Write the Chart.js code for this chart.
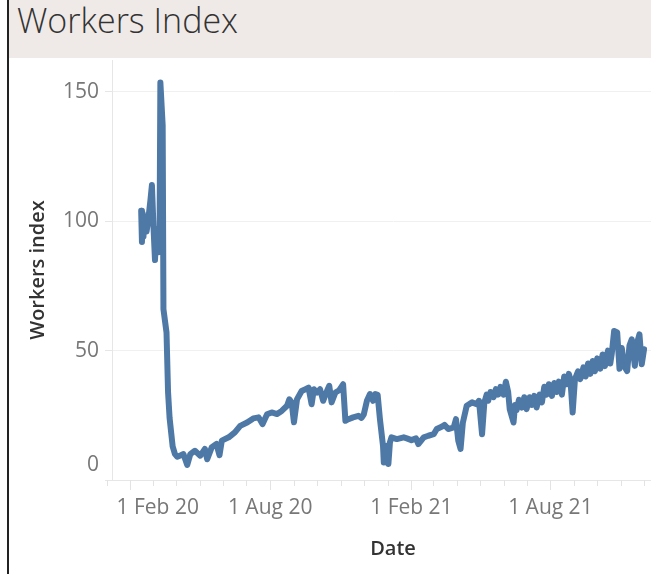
<!DOCTYPE html>
<html>
<head>
<meta charset="utf-8">
<title>Workers Index</title>
<script src="https://cdn.jsdelivr.net/npm/chart.js@4.4.1/dist/chart.umd.min.js"></script>
<style>
  html, body { margin: 0; padding: 0; background: #fff; overflow: hidden; width: 651px; height: 574px; }
  #frame { position: absolute; left: 7px; top: 0; width: 2px; height: 574px; background: #222; }
  #header { position: absolute; left: 9px; top: 0; width: 642px; height: 58px; background: #efeae7; }
  #header h1 { margin: 0; padding: 0 0 0 8px; font: 300 34px 'Open Sans', sans-serif; color: #333; line-height: 40px; }
  #wrap { position: absolute; left: 10px; top: 58px; width: 664px; height: 516px; }
</style>
</head>
<body>
<div id="frame"></div>
<div id="header"><h1>Workers Index</h1></div>
<div id="wrap"><canvas id="chart"></canvas></div>
<script>
const dates = [
  '2020-02-15','2020-02-16','2020-02-17','2020-02-18','2020-02-19','2020-02-22','2020-02-24','2020-02-27','2020-02-29',
  '2020-03-02','2020-03-04','2020-03-06','2020-03-08','2020-03-10','2020-03-11','2020-03-14','2020-03-15','2020-03-19',
  '2020-03-21','2020-03-23','2020-03-27','2020-03-30','2020-04-02','2020-04-06','2020-04-10','2020-04-15','2020-04-19',
  '2020-04-25','2020-05-02','2020-05-08','2020-05-11','2020-05-17','2020-05-23','2020-05-27','2020-05-30','2020-06-08',
  '2020-06-16','2020-06-23','2020-07-02','2020-07-10','2020-07-17','2020-07-22','2020-07-28','2020-08-03','2020-08-10',
  '2020-08-16','2020-08-23','2020-08-26','2020-08-29','2020-09-01','2020-09-05','2020-09-11','2020-09-16','2020-09-20',
  '2020-09-24','2020-09-27','2020-10-01','2020-10-05','2020-10-09','2020-10-14','2020-10-17','2020-10-20','2020-10-25',
  '2020-10-30','2020-11-04','2020-11-07','2020-11-11','2020-11-17','2020-11-24','2020-11-28','2020-12-01','2020-12-05',
  '2020-12-09','2020-12-13','2020-12-16','2020-12-19','2020-12-22','2020-12-26','2020-12-27','2020-12-31','2021-01-02',
  '2021-01-04','2021-01-06','2021-01-13','2021-01-22','2021-01-26','2021-02-01','2021-02-07','2021-02-10','2021-02-17',
  '2021-02-23','2021-03-02','2021-03-06','2021-03-13','2021-03-16','2021-03-21','2021-03-28','2021-03-31','2021-04-03',
  '2021-04-06','2021-04-09','2021-04-14','2021-04-21','2021-04-27','2021-04-30',
  '2021-05-04','2021-05-07','2021-05-10','2021-05-12','2021-05-15','2021-05-19','2021-05-22','2021-05-25','2021-05-28',
  '2021-06-01','2021-06-04','2021-06-07','2021-06-09','2021-06-14','2021-06-16','2021-06-18','2021-06-21','2021-06-25',
  '2021-06-28','2021-07-01','2021-07-05','2021-07-08','2021-07-11','2021-07-14','2021-07-18','2021-07-21','2021-07-24',
  '2021-07-27','2021-07-30','2021-08-03','2021-08-06','2021-08-09','2021-08-12','2021-08-16','2021-08-19','2021-08-22',
  '2021-08-25','2021-08-27','2021-08-30','2021-09-02','2021-09-06','2021-09-09','2021-09-13','2021-09-16','2021-09-19',
  '2021-09-22','2021-09-25','2021-09-28','2021-10-01','2021-10-05','2021-10-08','2021-10-11','2021-10-15','2021-10-18',
  '2021-10-20','2021-10-23','2021-10-27','2021-10-30','2021-11-02','2021-11-05','2021-11-09','2021-11-12','2021-11-15',
  '2021-11-19','2021-11-22','2021-11-25','2021-11-28','2021-12-01'
];
const workersIndex = [
  104, 92, 103, 94, 102, 96, 100, 108, 114,
  98, 85, 97, 88, 97, 153.6, 137, 66, 57,
  34, 24, 13, 10, 9, 9.5, 10, 5.8, 10,
  11.3, 9.4, 12, 8, 12.7, 13.9, 9.6, 15.2, 16.5,
  18.4, 20.9, 22.2, 23.8, 24.2, 21.6, 25.4, 26.1, 25.5,
  26.7, 28.7, 31.2, 30, 22.3, 31.2, 34.4, 35.1, 35.7,
  29.3, 35.1, 33.8, 35.1, 30.6, 34.4, 36.4, 30, 33.8,
  34.7, 37, 22.9, 23.5, 24.2, 24.8, 24, 25.4, 30.6,
  33.2, 30.6, 33.2, 32.9, 23.5, 13.2, 6.8, 13.2, 6.2,
  14.5, 16.5, 15.8, 16.5, 16.1, 15.4, 16.1, 13.9, 16.5,
  17.1, 17.7, 19.7, 20.7, 21.3, 19.7, 20.3, 23.5, 15.2,
  12, 22.2, 28.7, 30, 29.3, 30.6,
  17.7, 30, 33, 30.6, 34, 32, 35.1, 33, 36,
  33, 38, 34, 27.4, 22.2, 29, 27, 31, 28,
  32, 27.4, 32, 29, 32.5, 28, 33, 30, 36,
  33, 37, 32.5, 37.5, 34, 38, 33, 40, 37,
  41, 39, 26.1, 39, 42, 39, 43.5, 40, 45,
  41, 46, 42, 47, 43, 48.5, 44, 50, 45,
  49, 57.6, 57, 43, 51, 44, 42.1, 52, 54.4,
  44.1, 53, 56.3, 44.7, 50.5
];
const xTickDates = ['2020-02-01', '2020-08-01', '2021-02-01', '2021-08-01'];
const xTickLabels = ['1 Feb 20', '1 Aug 20', '1 Feb 21', '1 Aug 21'];
const yTicks = [0, 50, 100, 150];
const xRange = ['2020-01-08', '2022-01-09'];
const yMax = 162.3;

const dayNum = s => {
  const [y, m, d] = s.split('-').map(Number);
  return Date.UTC(y, m - 1, d) / 86400000;
};

// monthly short tick marks along the date axis
const monthTicks = {
  id: 'monthTicks',
  afterDraw(chart) {
    const x = chart.scales.x;
    const ctx = chart.ctx;
    const y0 = chart.chartArea.bottom;
    ctx.save();
    ctx.strokeStyle = '#e3e3e3';
    ctx.lineWidth = 1;
    for (let yr = 2020; yr <= 2021; yr++) {
      for (let m = 1; m <= 12; m++) {
        const px = Math.round(x.getPixelForValue(Date.UTC(yr, m - 1, 1) / 86400000)) + 0.5;
        ctx.beginPath();
        ctx.moveTo(px, y0);
        ctx.lineTo(px, y0 + 6);
        ctx.stroke();
      }
    }
    ctx.restore();
  }
};

const noPad = s => { s.paddingTop = 0; s.paddingBottom = 0; s.paddingLeft = 0; s.paddingRight = 0; };

const tickFont = { family: "'Open Sans', sans-serif", size: 21, lineHeight: 1.4 };
const titleFont = { family: "'Open Sans', sans-serif", size: 20, weight: '600' };

new Chart(document.getElementById('chart'), {
  type: 'line',
  data: {
    datasets: [{
      label: 'Workers index',
      data: dates.map((d, i) => ({ x: dayNum(d), y: workersIndex[i] })),
      borderColor: '#4e79a7',
      borderWidth: 6,
      borderJoinStyle: 'round',
      borderCapStyle: 'round',
      pointRadius: 0,
      tension: 0
    }]
  },
  options: {
    responsive: true,
    maintainAspectRatio: false,
    animation: false,
    layout: { padding: { top: 2, left: 0, right: 0, bottom: 0 } },
    plugins: { legend: { display: false }, tooltip: { enabled: false } },
    scales: {
      x: {
        type: 'linear',
        min: dayNum(xRange[0]),
        max: dayNum(xRange[1]),
        afterBuildTicks: s => { s.ticks = xTickDates.map(d => ({ value: dayNum(d) })); },
        afterFit: s => { s.height = 94; noPad(s); },
        border: { color: '#e6e6e6' },
        grid: { drawOnChartArea: false, tickLength: 10, color: '#e3e3e3' },
        ticks: {
          color: '#777',
          font: tickFont,
          padding: 3,
          maxRotation: 0,
          autoSkip: false,
          callback: (v, i) => (i === 0 ? ' '.repeat(10) : '') + xTickLabels[i]
        },
        title: { display: true, text: 'Date', color: '#333', font: titleFont, padding: { top: 0, bottom: 13 } }
      },
      y: {
        min: 0,
        max: yMax,
        afterBuildTicks: s => { s.ticks = yTicks.map(v => ({ value: v })); },
        afterFit: s => { s.width = 102; noPad(s); },
        border: { color: '#e6e6e6' },
        grid: { color: '#f0f0f0', tickLength: 7, tickColor: '#e6e6e6' },
        ticks: {
          color: '#777',
          font: tickFont,
          padding: 6,
          callback: v => (v === 0 ? ['0', ''] : String(v))
        },
        title: { display: true, text: 'Workers index', color: '#333', font: titleFont, padding: { top: 16, bottom: 0 } }
      }
    }
  },
  plugins: [monthTicks]
});
</script>
</body>
</html>
